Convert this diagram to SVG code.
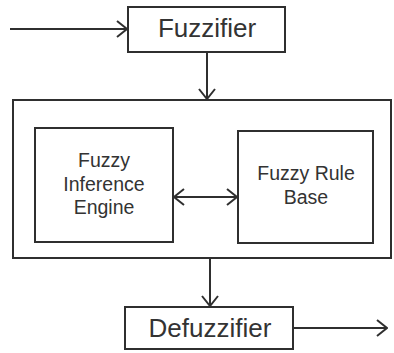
<svg xmlns="http://www.w3.org/2000/svg" width="394" height="353" viewBox="0 0 394 353">
<defs>
<style>
.box{fill:#fff;stroke:#2f2f2f;stroke-width:2}
.lbl{font-family:"Liberation Sans",Arial,sans-serif;fill:#333;text-anchor:middle}
.big{font-size:26px}
.sm{font-size:19.5px}
.con{fill:none;stroke:#2f2f2f;stroke-width:2}
</style>
<marker id="ah" viewBox="0 0 12 18" refX="11" refY="9" markerWidth="12" markerHeight="18" markerUnits="userSpaceOnUse" orient="auto-start-reverse">
<path d="M1,1 L11,9 L1,17" fill="none" stroke="#2f2f2f" stroke-width="2"/>
</marker>
</defs>
<rect width="394" height="353" fill="#fff"/>
<g id="system">
<rect class="box" x="13" y="100" width="378" height="158"/>
</g>
<g id="fuzzifier">
<rect class="box" x="128" y="7" width="157" height="45"/>
<text class="lbl big" x="207" y="37">Fuzzifier</text>
</g>
<g id="inference">
<rect class="box" x="35" y="128" width="138" height="114"/>
<text class="lbl sm" x="104" y="167">Fuzzy</text>
<text class="lbl sm" x="104" y="191">Inference</text>
<text class="lbl sm" x="104" y="214">Engine</text>
</g>
<g id="rulebase">
<rect class="box" x="238" y="131" width="135" height="112"/>
<text class="lbl sm" x="306" y="180">Fuzzy Rule</text>
<text class="lbl sm" x="306" y="204">Base</text>
</g>
<g id="defuzzifier">
<rect class="box" x="125" y="307" width="168" height="42"/>
<text class="lbl big" x="210" y="337">Defuzzifier</text>
</g>
<g id="connectors">
<line class="con" x1="10" y1="29" x2="127" y2="29" marker-end="url(#ah)"/>
<line class="con" x1="207" y1="52" x2="207" y2="99" marker-end="url(#ah)"/>
<line class="con" x1="174" y1="197" x2="237" y2="197" marker-start="url(#ah)" marker-end="url(#ah)"/>
<line class="con" x1="210" y1="258" x2="210" y2="306" marker-end="url(#ah)"/>
<line class="con" x1="293" y1="328" x2="387" y2="328" marker-end="url(#ah)"/>
</g>
</svg>
